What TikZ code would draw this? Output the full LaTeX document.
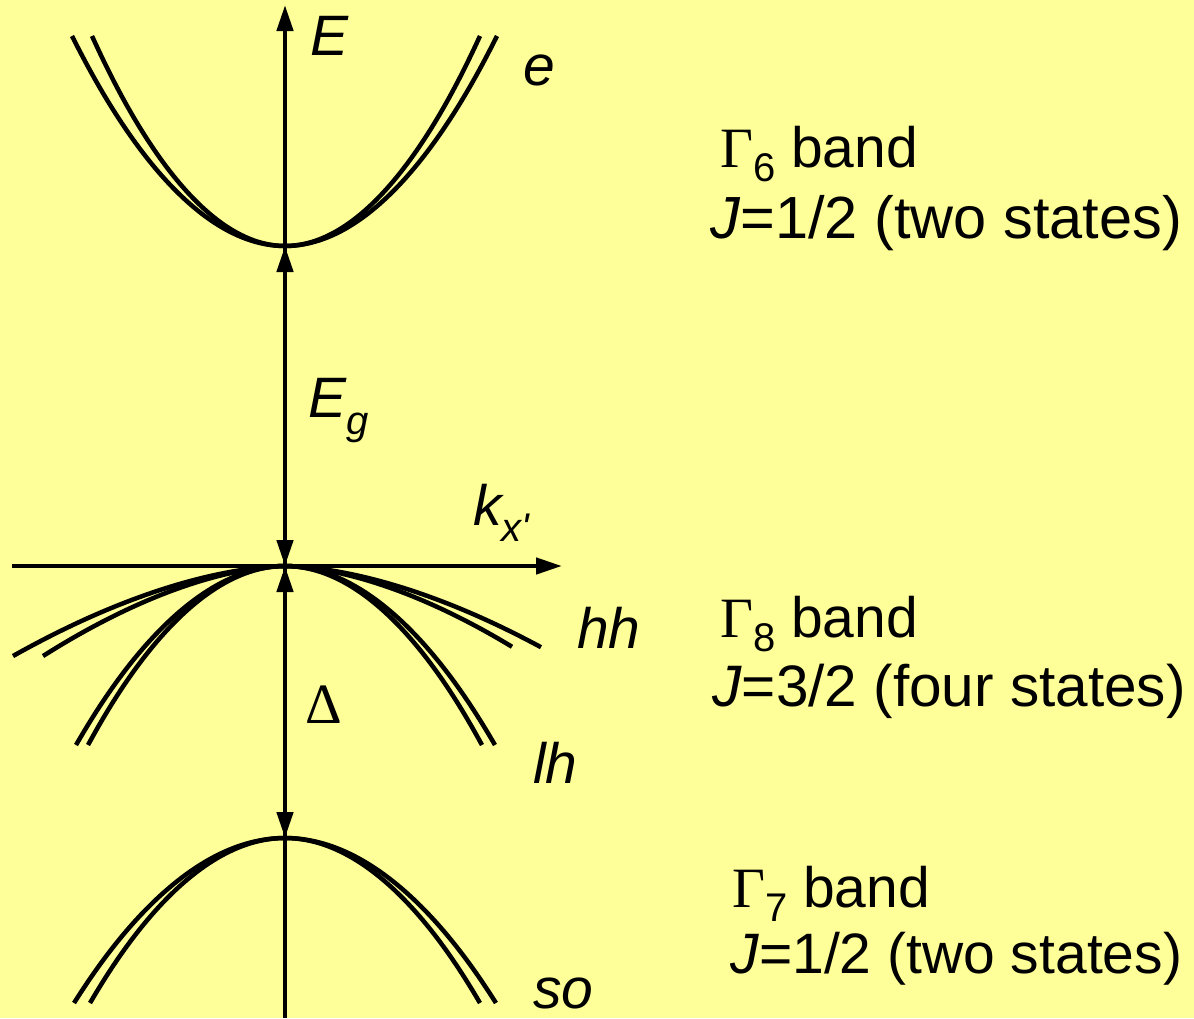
\documentclass[tikz,border=0pt]{standalone}
\usepackage{fontspec}
\setmainfont{Liberation Sans}
\newfontfamily\seriffont{Liberation Serif}
\usetikzlibrary{arrows.meta}
\definecolor{bgyellow}{RGB}{255,255,153}
\newcommand\mysub[2][14pt]{\raisebox{-#1}{\fontsize{40}{40}\selectfont #2}}
\begin{document}
\begin{tikzpicture}[x=1pt,y=-1pt,
  band/.style={line width=4.5pt},
  axis/.style={line width=4.5pt,-{Triangle[length=26pt,width=16pt]}},
  dbl/.style={line width=4.5pt,{Triangle[length=26pt,width=16pt]}-{Triangle[length=26pt,width=16pt]}},
  lbl/.style={inner sep=0pt,anchor=base west,font=\fontsize{57}{60}\selectfont},
  jlbl/.style={inner sep=0pt,anchor=base west,font=\fontsize{59.5}{62}\selectfont}]
\fill[bgyellow] (0,0) rectangle (1194,1018);
\useasboundingbox (0,0) rectangle (1194,1018);
% key points
\coordinate (O) at (285,566);
\coordinate (C) at (285,246);
\coordinate (S) at (285,838);
\coordinate (Etop) at (285,5);
\coordinate (Ebot) at (285,1018);
\coordinate (Kl) at (12,566);
\coordinate (Kr) at (562,566);
% e band
\draw[band] (72,36) parabola bend (C) (497,36);
\draw[band] (92,36) parabola bend (C) (480,36);
% hh band
\draw[band] plot[domain=-272:256,samples=81] ({285+\x},{566+90*(abs(\x)/272+0.0001)^1.7});
\draw[band] plot[domain=-242:227,samples=81] ({285+\x},{566+90*(abs(\x)/242+0.0001)^1.7});
% lh band
\draw[band] (76,745) parabola bend (O) (495,745);
\draw[band] (88,745) parabola bend (O) (482,745);
% so band
\draw[band] (74,1003) parabola bend (S) (496,1003);
\draw[band] (90,1003) parabola bend (S) (480,1003);
% axes
\draw[axis] (Ebot) -- (Etop);
\draw[axis] (Kl) -- (Kr);
\draw[dbl] (O) -- (C);
\draw[dbl] (S) -- (O);
% labels
\node[lbl] (lE) at (310,55) {\itshape E};
\node[lbl] (le) at (523,85) {\itshape e};
\node[lbl] (lEg) at (308,417) {\itshape E\mysub[17pt]{g}};
\node[lbl] (lk) at (473,525) {\itshape k\mysub[16pt]{x\textquotesingle}};
\node[lbl] (lhh) at (577,648) {\itshape hh};
\node[lbl] (llh) at (533,783) {\itshape lh};
\node[lbl] (lD) at (305,723) {\seriffont\symbol{"0394}};
\node[lbl] (lso) at (533,1008) {\itshape so};
\node[lbl] (g6) at (720,167) {{\seriffont\symbol{"0393}}\mysub{6} band};
\node[jlbl] (j6) at (710,238) {\textit{J}=1/2 (two states)};
\node[lbl] (g8) at (720,637) {{\seriffont\symbol{"0393}}\mysub{8} band};
\node[jlbl,font=\fontsize{58.5}{62}\selectfont] (j8) at (712,706) {\textit{J}=3/2 (four states)};
\node[lbl] (g7) at (732,907) {{\seriffont\symbol{"0393}}\mysub{7} band};
\node[lbl] (j7) at (730,973) {\textit{J}=1/2 (two states)};
\end{tikzpicture}
\end{document}
